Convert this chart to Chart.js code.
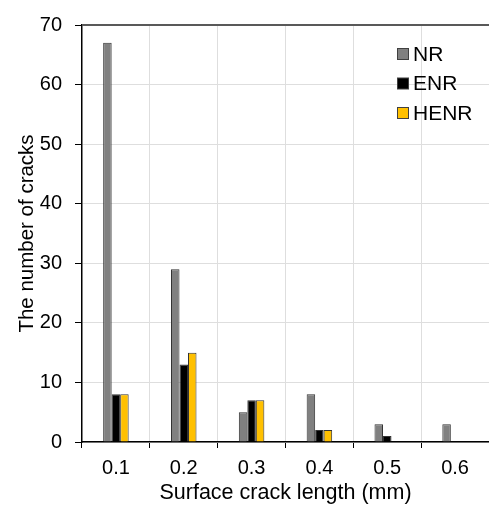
<!DOCTYPE html>
<html>
<head>
<meta charset="utf-8">
<style>
  html, body { margin: 0; padding: 0; background: #fff; }
  #wrap { width: 489px; height: 506px; }
</style>
<script src="https://cdn.jsdelivr.net/npm/chart.js@4/dist/chart.umd.min.js"></script>
</head>
<body>
<div id="wrap"><canvas id="c" width="489" height="506"></canvas></div>
<script>
// Crack length bins (mm) and crack counts per material
const lengths = ['0.1', '0.2', '0.3', '0.4', '0.5', '0.6'];
const countsNR = [67, 29, 5, 8, 3, 3];
const countsENR = [8, 13, 7, 2, 1, 0];
const countsHENR = [8, 15, 7, 2, 0, 0];
const yMax = 70;
const yStep = 10;

const FONT = 'Liberation Sans, Arial, sans-serif';

// In-plot legend, top right
const insideLegend = {
  id: 'insideLegend',
  afterDraw(chart) {
    const ctx = chart.ctx;
    ctx.save();
    ctx.font = '21px ' + FONT;
    ctx.textBaseline = 'middle';
    ctx.textAlign = 'left';
    chart.data.datasets.forEach((ds, i) => {
      const cy = 54 + i * 29.5;
      ctx.fillStyle = ds.backgroundColor;
      ctx.fillRect(397.5, cy - 5.5, 11, 11);
      ctx.strokeStyle = '#404040';
      ctx.lineWidth = 1;
      ctx.strokeRect(397.5, cy - 5.5, 11, 11);
      ctx.fillStyle = '#000';
      ctx.fillText(ds.label, 413, cy + 1);
    });
    ctx.restore();
  }
};

// Dark frame line along the top of the plot
const topLine = {
  id: 'topLine',
  afterDatasetsDraw(chart) {
    const { ctx, chartArea } = chart;
    ctx.save();
    ctx.strokeStyle = '#595959';
    ctx.lineWidth = 2;
    ctx.beginPath();
    ctx.moveTo(chartArea.left, chartArea.top);
    ctx.lineTo(chartArea.right, chartArea.top);
    ctx.stroke();
    ctx.restore();
  }
};

const barCommon = {
  borderColor: '#333333',
  borderWidth: 1,
  barPercentage: 1,
  categoryPercentage: 0.376
};

new Chart(document.getElementById('c'), {
  type: 'bar',
  data: {
    labels: lengths,
    datasets: [
      Object.assign({ label: 'NR', data: countsNR, backgroundColor: '#808080' }, barCommon),
      Object.assign({ label: 'ENR', data: countsENR, backgroundColor: '#000000' }, barCommon),
      Object.assign({ label: 'HENR', data: countsHENR, backgroundColor: '#FFC000' }, barCommon)
    ]
  },
  options: {
    responsive: false,
    animation: false,
    layout: { padding: { top: 24, right: 0, left: 0, bottom: 0 } },
    plugins: {
      legend: { display: false },
      tooltip: { enabled: false }
    },
    scales: {
      x: {
        offset: true,
        grid: {
          offset: true,
          color: '#dedede',
          lineWidth: 1,
          tickColor: '#000',
          tickLength: 6,
          drawOnChartArea: true
        },
        border: { color: '#000', width: 1.5 },
        ticks: { color: '#000', font: { family: FONT, size: 20 }, padding: 8 },
        title: {
          display: true,
          text: 'Surface crack length (mm)',
          color: '#000',
          font: { family: FONT, size: 21.5 },
          padding: { top: 0, bottom: 0 }
        },
        afterFit(scale) { scale.height = 64; }
      },
      y: {
        min: 0,
        max: yMax,
        ticks: {
          stepSize: yStep,
          color: '#000',
          font: { family: FONT, size: 20 },
          padding: 13
        },
        grid: {
          color: '#dedede',
          lineWidth: 1,
          tickColor: '#000',
          tickLength: 7
        },
        border: { color: '#000', width: 1.5 },
        title: {
          display: true,
          text: 'The number of cracks',
          color: '#000',
          font: { family: FONT, size: 20.5 },
          padding: { top: 15, bottom: 0 }
        },
        afterFit(scale) { scale.width = 82; }
      }
    }
  },
  plugins: [topLine, insideLegend]
});
</script>
</body>
</html>
